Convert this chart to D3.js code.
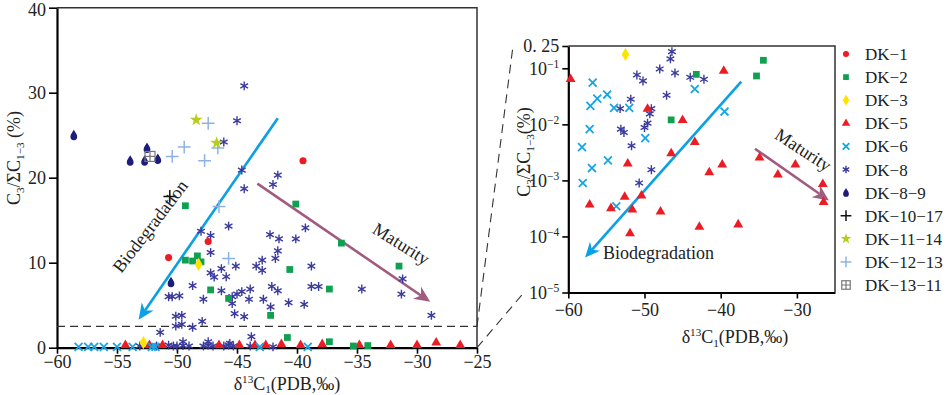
<!DOCTYPE html>
<html>
<head>
<meta charset="utf-8">
<script src="https://cdn.jsdelivr.net/npm/d3@7"></script>
<style>
  body { margin: 0; background: #fff; }
  svg text { font-family: "Liberation Serif", "DejaVu Serif", serif; fill: #222; }
</style>
</head>
<body>
<svg id="chart" width="948" height="395"></svg>
<script>
// ---- left panel data: d13C1 (PDB, permil) vs C3/ΣC1-3 (%) ----
const dk1L = [[-39.5, 22.0], [-47.4, 12.5], [-50.7, 10.6]];
const dk2L = [[-49.3, 16.7], [-40.1, 16.9], [-49.3, 10.3], [-48.7, 10.2], [-48.3, 10.8], [-48.0, 10.1],
  [-47.2, 6.8], [-45.7, 5.8], [-40.6, 9.2], [-42.2, 3.8], [-40.8, 1.2], [-36.3, 12.3], [-37.3, 6.9],
  [-31.5, 9.6], [-37.3, 0.7], [-35.3, 0.2], [-34.1, 0.25]];
const dk3L = [[-48.2, 9.8], [-52.8, 0.6]];
const dk5L = [[-54.3, 0.3], [-52.3, 0.3], [-51.2, 0.3], [-46.5, 0.3], [-44.8, 0.3], [-43.5, 0.3], [-42.6, 0.3],
  [-41.3, 0.4], [-39.7, 0.3], [-37.9, 0.4], [-34.8, 0.3], [-32.2, 0.3], [-30.0, 0.3], [-28.4, 0.6], [-26.4, 0.3]];
const dk6L = [[-58.2, 0.1], [-57.4, 0.1], [-56.9, 0.1], [-56.1, 0.1], [-55.0, 0.1], [-53.7, 0.1], [-52.1, 0.1],
  [-51.8, 0.1], [-43.1, 0.1], [-39.1, 0.1]];
const dk8L = [[-44.4, 30.8], [-45.0, 26.7], [-46.1, 24.2], [-44.6, 20.9], [-44.4, 18.7], [-41.6, 20.3], [-42.0, 19.2],
  [-45.7, 14.3], [-48.0, 13.7], [-47.2, 13.2], [-47.2, 11.2], [-47.2, 8.8], [-46.9, 8.3], [-46.3, 9.3], [-45.9, 8.35],
  [-45.1, 9.6], [-48.7, 7.3], [-46.3, 6.7], [-47.8, 5.7], [-50.7, 6.0], [-50.4, 6.0], [-49.8, 6.1],
  [-45.4, 6.0], [-45.0, 6.3], [-44.6, 6.6], [-43.9, 6.9], [-45.4, 5.2], [-44.0, 5.7], [-45.2, 4.0], [-44.4, 3.65],
  [-43.4, 9.6], [-42.9, 10.3], [-42.9, 9.1], [-41.8, 10.5], [-41.6, 11.4], [-42.25, 13.3], [-41.5, 12.8],
  [-40.1, 12.8], [-39.3, 14.1], [-42.1, 7.2], [-41.6, 6.7], [-42.8, 5.7], [-42.2, 4.8], [-40.7, 5.3], [-39.4, 5.1],
  [-38.8, 9.6], [-38.8, 7.2], [-38.2, 7.2], [-34.6, 6.9], [-31.2, 8.1], [-31.3, 6.3], [-28.8, 3.8],
  [-50.1, 3.7], [-49.6, 3.8], [-50.1, 2.55], [-49.6, 2.75], [-48.7, 2.4], [-47.9, 3.1], [-51.4, 1.8], [-43.8, 1.3],
  [-53.1, 0.2], [-51.7, 0.2], [-50.7, 0.3], [-50.3, 0.2], [-50.0, 0.2], [-49.5, 0.25], [-49.0, 0.2], [-47.8, 0.2],
  [-47.4, 0.3], [-47.0, 0.2], [-46.1, 0.2], [-45.7, 0.3], [-45.3, 0.2], [-43.9, 0.2], [-42.0, 0.1],
  [-49.5, 0.7], [-47.4, 0.7], [-45.6, 0.5]];
const dk89L = [[-58.6, 25.0], [-53.9, 22.0], [-52.7, 22.0], [-52.5, 23.5], [-51.6, 22.2], [-50.5, 7.7]];
const dk1017L = [[-50.6, 17.8]];
const dk1114L = [[-48.4, 26.8], [-46.7, 24.1]];
const dk1213L = [[-47.4, 26.4], [-46.6, 23.5], [-49.4, 23.6], [-50.4, 22.5], [-47.7, 22.0], [-46.5, 16.6], [-45.7, 10.5]];
const dk1311L = [[-52.25, 22.5]];

// ---- right panel data (log scale) ----
const dk2R = [[-43.2, 0.078], [-35.3, 0.073], [-34.4, 0.139], [-46.5, 0.012]];
const dk3R = [[-52.5, 0.177]];
const dk5R = [[-59.7, 0.0637], [-39.6, 0.0897], [-49.6, 0.0189], [-45.0, 0.0119], [-43.4, 0.00482], [-46.5, 0.00303],
  [-52.2, 0.00199], [-41.5, 0.00139], [-39.8, 0.0019], [-34.9, 0.00254], [-32.5, 0.00127], [-30.2, 0.0019],
  [-26.6, 0.00086], [-26.5, 0.00041], [-50.4, 0.000535], [-52.6, 0.000507], [-57.2, 0.00037], [-54.4, 0.000318],
  [-51.6, 0.000301], [-47.9, 0.000278], [-51.9, 0.000113], [-42.8, 0.000148], [-37.7, 0.000163]];
const dk6R = [[-56.8, 0.0556], [-57.1, 0.0214], [-56.2, 0.0288], [-54.9, 0.034], [-54.0, 0.0197], [-52.0, 0.0197],
  [-43.4, 0.0428], [-39.5, 0.0169], [-57.2, 0.00822], [-58.2, 0.00393], [-49.9, 0.00567], [-54.8, 0.00228],
  [-56.9, 0.00166], [-58.1, 0.0009], [-53.7, 0.000346]];
const dk8R = [[-46.4, 0.198], [-46.6, 0.147], [-48.0, 0.0973], [-46.0, 0.0826], [-51.0, 0.076], [-50.2, 0.0595],
  [-44.0, 0.0692], [-42.2, 0.0637], [-47.1, 0.0331], [-51.8, 0.0281], [-53.2, 0.0191], [-49.1, 0.0191],
  [-49.3, 0.0154], [-49.6, 0.0105], [-50.0, 0.00879], [-53.1, 0.00822], [-52.7, 0.00717], [-51.7, 0.00415],
  [-49.1, 0.00155], [-50.7, 0.0009]];

// trend arrows [from, to]
const bioArrowL = [[-41.6, 27.0], [-53.2, 3.3]];
const matArrowL = [[-43.3, 19.3], [-28.9, 5.4]];
const bioArrowR = [[-37.3, 0.058], [-57.8, 4.2e-5]];
const matArrowR = [[-35.5, 0.00367], [-25.8, 0.00044]];

const leftYTicks = [0, 10, 20, 30, 40];
const leftXTicks = [-60, -55, -50, -45, -40, -35, -30, -25];
const rightYTicks = [1e-5, 1e-4, 1e-3, 1e-2, 1e-1, 0.25];
const rightXTicks = [-60, -50, -40, -30];
const cutoff = 2.5;

const legendNames = ["DK-1", "DK-2", "DK-3", "DK-5", "DK-6", "DK-8", "DK-8-9", "DK-10-17", "DK-11-14", "DK-12-13", "DK-13-11"];

const BLUE = "#0aa0e4", MAUVE = "#a25b80";
const styles = {
  "DK-1": { kind: "circle", color: "#ec1c24" },
  "DK-2": { kind: "square", color: "#10a050" },
  "DK-3": { kind: "diamond", color: "#fde400" },
  "DK-5": { kind: "triangle", color: "#ec1c24" },
  "DK-6": { kind: "times", color: "#17a6e3" },
  "DK-8": { kind: "asterisk", color: "#3b3b9e" },
  "DK-8-9": { kind: "drop", color: "#1c1c7c" },
  "DK-10-17": { kind: "plus", color: "#111" },
  "DK-11-14": { kind: "star", color: "#b8cc1a" },
  "DK-12-13": { kind: "plus", color: "#8db3e2" },
  "DK-13-11": { kind: "boxplus", color: "#777" }
};

const svg = d3.select("#chart");

// scales
const xL = d3.scaleLinear().domain([-60, -25]).range([57, 477]);
const yL = d3.scaleLinear().domain([0, 40]).range([347.7, 7.7]);
const xR = d3.scaleLinear().domain([-60, -25]).range([568.3, 835]);
const yR = d3.scaleLog().domain([1e-5, 0.25]).range([292.5, 46]);

function marker(sel, kind, color, scale = 1) {
  const s = scale;
  if (kind === "circle") {
    sel.append("path").attr("d", d3.symbol(d3.symbolCircle, 40 * s * s)).attr("fill", color);
  } else if (kind === "square") {
    sel.append("path").attr("d", d3.symbol(d3.symbolSquare, 46 * s * s)).attr("fill", color);
  } else if (kind === "diamond") {
    sel.append("path").attr("d", d3.symbol(d3.symbolDiamond, 50 * s * s)).attr("fill", color);
  } else if (kind === "triangle") {
    sel.append("path").attr("d", d3.symbol(d3.symbolTriangle, 42 * s * s)).attr("fill", color);
  } else if (kind === "times") {
    sel.append("path").attr("d", d3.symbol(d3.symbolTimes, 42 * s * s))
      .attr("fill", "none").attr("stroke", color).attr("stroke-width", 1.8);
  } else if (kind === "asterisk") {
    sel.append("path").attr("d", d3.symbol(d3.symbolAsterisk, 55 * s * s))
      .attr("fill", "none").attr("stroke", color).attr("stroke-width", 1.4);
  } else if (kind === "plus") {
    sel.append("path").attr("d", d3.symbol(d3.symbolPlus, 55 * s * s))
      .attr("fill", "none").attr("stroke", color).attr("stroke-width", 1.5);
  } else if (kind === "star") {
    sel.append("path").attr("d", d3.symbol(d3.symbolStar, 50 * s * s)).attr("fill", color);
  } else if (kind === "drop") {
    sel.append("path")
      .attr("d", "M0,-5.5 C1.6,-2.8 3.4,-0.8 3.4,1.6 A3.4,3.4 0 0 1 -3.4,1.6 C-3.4,-0.8 -1.6,-2.8 0,-5.5Z")
      .attr("transform", `scale(${s})`).attr("fill", color);
  } else if (kind === "boxplus") {
    const h = 5 * s;
    sel.append("rect").attr("x", -h).attr("y", -h).attr("width", 2 * h).attr("height", 2 * h)
      .attr("fill", "none").attr("stroke", color).attr("stroke-width", 1.2);
    sel.append("path").attr("d", `M${-h},0H${h}M0,${-h}V${h}`).attr("stroke", color).attr("stroke-width", 1.2);
  }
}

function drawSeries(g, data, name, x, y) {
  const st = styles[name];
  g.selectAll(null).data(data).enter().append("g")
    .attr("transform", d => `translate(${x(d[0])},${y(d[1])})`)
    .each(function () { marker(d3.select(this), st.kind, st.color); });
}

// rich text helper: parts = [[text, "sub"|"sup"|undefined], ...]
function rich(t, parts, size, subShift = 4) {
  let shift = 0;
  parts.forEach(([txt, mode]) => {
    const target = mode === "sub" ? subShift : mode === "sup" ? -7 : 0;
    t.append("tspan").attr("dy", target - shift)
      .attr("font-size", mode ? size * 0.62 : size).text(txt);
    shift = target;
  });
}

function arrow(g, pts, x, y, color, head) {
  const x0 = x(pts[0][0]), y0 = y(pts[0][1]), x1 = x(pts[1][0]), y1 = y(pts[1][1]);
  const ang = Math.atan2(y1 - y0, x1 - x0);
  const L = head, W = head * 0.45;
  const bx = x1 - Math.cos(ang) * L * 0.7, by = y1 - Math.sin(ang) * L * 0.7;
  g.append("line").attr("x1", x0).attr("y1", y0).attr("x2", bx).attr("y2", by)
    .attr("stroke", color).attr("stroke-width", 2.6);
  const c = Math.cos(ang), s = Math.sin(ang);
  const p = (u, v) => [x1 + u * c - v * s, y1 + u * s + v * c];
  const poly = [p(0, 0), p(-L, -W), p(-L * 0.7, 0), p(-L, W)];
  g.append("path").attr("d", "M" + poly.map(q => q.join(",")).join("L") + "Z").attr("fill", color);
}

// ================= LEFT PANEL =================
const gL = svg.append("g");

gL.append("g").attr("transform", `translate(0,${yL(0)})`)
  .call(d3.axisBottom(xL).tickValues(leftXTicks).tickSize(6).tickSizeOuter(0).tickPadding(2))
  .call(a => a.select(".domain").attr("stroke-width", 2.2))
  .call(a => a.selectAll(".tick line").attr("stroke-width", 1.6))
  .call(a => a.selectAll(".tick text").attr("font-size", 18).attr("font-family", "Liberation Serif").attr("fill", "#222"));

gL.append("g").attr("transform", `translate(${xL(-60)},0)`)
  .call(d3.axisLeft(yL).tickValues(leftYTicks).tickSize(8).tickSizeOuter(0).tickPadding(3))
  .call(a => a.select(".domain").attr("stroke-width", 2.2))
  .call(a => a.selectAll(".tick line").attr("stroke-width", 1.6))
  .call(a => a.selectAll(".tick text").attr("font-size", 18).attr("font-family", "Liberation Serif").attr("fill", "#222")
    .attr("dy", d => d === 40 ? "0.45em" : "0.32em"));

// frame top/right
gL.append("path").attr("d", `M${xL(-60)},${yL(40)}H${xL(-25)}V${yL(0)}`)
  .attr("fill", "none").attr("stroke", "#333").attr("stroke-width", 1.5);

// cutoff dashed line
gL.append("line").attr("x1", xL(-60)).attr("x2", xL(-25)).attr("y1", yL(cutoff)).attr("y2", yL(cutoff))
  .attr("stroke", "#333").attr("stroke-width", 1.2).attr("stroke-dasharray", "8,5");

arrow(gL, bioArrowL, xL, yL, BLUE, 16);
arrow(gL, matArrowL, xL, yL, MAUVE, 16);

const ptsL = gL.append("g");
drawSeries(ptsL, dk8L, "DK-8", xL, yL);
drawSeries(ptsL, dk5L, "DK-5", xL, yL);
drawSeries(ptsL, dk6L, "DK-6", xL, yL);
drawSeries(ptsL, dk2L, "DK-2", xL, yL);
drawSeries(ptsL, dk1L, "DK-1", xL, yL);
drawSeries(ptsL, dk3L, "DK-3", xL, yL);
drawSeries(ptsL, dk89L, "DK-8-9", xL, yL);
drawSeries(ptsL, dk1017L, "DK-10-17", xL, yL);
drawSeries(ptsL, dk1213L, "DK-12-13", xL, yL);
drawSeries(ptsL, dk1114L, "DK-11-14", xL, yL);
drawSeries(ptsL, dk1311L, "DK-13-11", xL, yL);

gL.append("text").attr("font-size", 18)
  .attr("transform", "translate(155,230) rotate(-52.5)").attr("text-anchor", "middle")
  .text("Biodegradation");
gL.append("text").attr("font-size", 18)
  .attr("transform", "translate(398,249) rotate(32)").attr("text-anchor", "middle")
  .text("Maturity");

// axis titles
rich(gL.append("text").attr("x", 287).attr("y", 390).attr("text-anchor", "middle"),
  [["δ"], ["13", "sup"], ["C"], ["1", "sub"], ["(PDB,‰)"]], 18, 3);
rich(gL.append("text").attr("transform", "translate(20,158) rotate(-90)").attr("text-anchor", "middle"),
  [["C"], ["3", "sub"], ["/ΣC"], ["1−3", "sub"], [" (%)"]], 18);

// ================= ZOOM CONNECTORS =================
svg.append("line").attr("x1", xL(-25)).attr("y1", yL(cutoff)).attr("x2", 513).attr("y2", yR(0.25))
  .attr("stroke", "#333").attr("stroke-width", 1.1).attr("stroke-dasharray", "9,6");
svg.append("line").attr("x1", xL(-25)).attr("y1", yL(0)).attr("x2", 524).attr("y2", yR(1e-5))
  .attr("stroke", "#333").attr("stroke-width", 1.1).attr("stroke-dasharray", "9,6");

// ================= RIGHT PANEL =================
const gR = svg.append("g");

gR.append("g").attr("transform", `translate(0,${yR(1e-5)})`)
  .call(d3.axisBottom(xR).tickValues(rightXTicks).tickSize(6).tickSizeOuter(0).tickPadding(5))
  .call(a => a.select(".domain").attr("stroke-width", 2.2))
  .call(a => a.selectAll(".tick line").attr("stroke-width", 1.6))
  .call(a => a.selectAll(".tick text").attr("font-size", 18).attr("font-family", "Liberation Serif").attr("fill", "#222"));

gR.append("g").attr("transform", `translate(${xR(-60)},0)`)
  .call(d3.axisLeft(yR).tickValues(rightYTicks).tickSize(6).tickSizeOuter(0).tickPadding(3).tickFormat(() => ""))
  .call(a => a.select(".domain").attr("stroke-width", 2.2))
  .call(a => a.selectAll(".tick line").attr("stroke-width", 1.6))
  .call(a => a.selectAll(".tick text").each(function (d) {
    const t = d3.select(this).attr("font-size", 18).attr("font-family", "Liberation Serif").attr("fill", "#222");
    if (d === 0.25) {
      t.text("0. 25");
    } else {
      const e = Math.round(Math.log10(d));
      t.text("10");
      t.append("tspan").attr("dy", -7).attr("font-size", 11.5).text("−" + Math.abs(e));
      t.append("tspan").attr("dy", 7).attr("font-size", 11.5).text("");
    }
  }));

gR.append("path").attr("d", `M${xR(-60)},${yR(0.25)}H${xR(-25)}V${yR(1e-5)}`)
  .attr("fill", "none").attr("stroke", "#333").attr("stroke-width", 1.5);

arrow(gR, bioArrowR, xR, yR, BLUE, 15);
arrow(gR, matArrowR, xR, yR, MAUVE, 16);

const ptsR = gR.append("g");
drawSeries(ptsR, dk8R, "DK-8", xR, yR);
drawSeries(ptsR, dk6R, "DK-6", xR, yR);
drawSeries(ptsR, dk5R, "DK-5", xR, yR);
drawSeries(ptsR, dk2R, "DK-2", xR, yR);
drawSeries(ptsR, dk3R, "DK-3", xR, yR);

gR.append("text").attr("font-size", 18).attr("x", 603).attr("y", 259).text("Biodegradation");
gR.append("text").attr("font-size", 18)
  .attr("transform", "translate(800,155) rotate(33)").attr("text-anchor", "middle")
  .text("Maturity");

rich(gR.append("text").attr("x", 735).attr("y", 343).attr("text-anchor", "middle"),
  [["δ"], ["13", "sup"], ["C"], ["1", "sub"], ["(PDB,‰)"]], 18);
rich(gR.append("text").attr("transform", "translate(530,152) rotate(-90)").attr("text-anchor", "middle"),
  [["C"], ["3", "sub"], ["/ΣC"], ["1−3", "sub"], ["(%)"]], 18);

// ================= LEGEND =================
const leg = svg.append("g").attr("transform", "translate(846,54)");
legendNames.forEach((name, i) => {
  const row = leg.append("g").attr("transform", `translate(0,${i * 23.1})`);
  const st = styles[name];
  marker(row, st.kind, st.color, 0.85);
  row.append("text").attr("x", 19).attr("y", 6).attr("font-size", 17).text(name.replace(/-/g, "−"));
});
</script>
</body>
</html>
